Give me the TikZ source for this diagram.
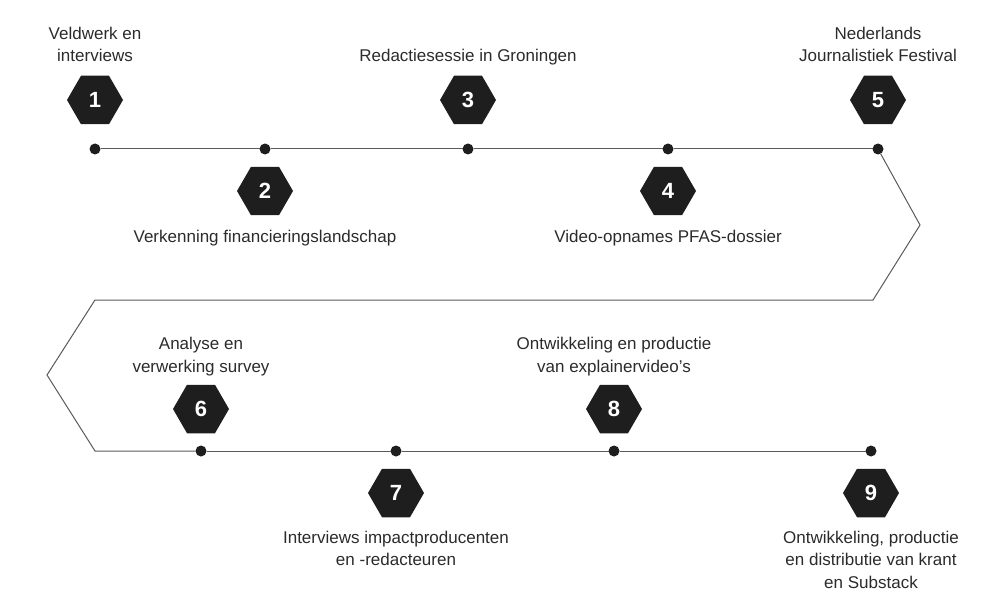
\documentclass[tikz,border=0pt]{standalone}
\usepackage{fontspec}
\setmainfont{Liberation Sans}
\usetikzlibrary{shapes.geometric}
\definecolor{hexfill}{HTML}{1E1E1E}
\definecolor{txt}{HTML}{2B2B2B}
\definecolor{linec}{HTML}{5A5A5A}
\begin{document}
\begin{tikzpicture}[x=1pt,y=-1pt,
  hexnode/.style={regular polygon,regular polygon sides=6,minimum size=56pt,inner sep=0pt,outer sep=0pt,fill=hexfill,text=white,font=\fontsize{22}{24}\bfseries\selectfont},
  dotnode/.style={circle,fill=hexfill,minimum size=11pt,inner sep=0pt,outer sep=0pt},
  lbl/.style={align=center,inner sep=0pt,text=txt,font=\fontsize{17}{22.5}\selectfont,anchor=base},
  tline/.style={draw=linec,line width=1pt}]
\useasboundingbox (0,0) rectangle (992,596);
% dots
\node[dotnode] (d1) at (95,149) {};
\node[dotnode] (d2) at (265,149) {};
\node[dotnode] (d3) at (468,149) {};
\node[dotnode] (d4) at (668,149) {};
\node[dotnode] (d5) at (878,149) {};
\node[dotnode] (d6) at (201,451) {};
\node[dotnode] (d7) at (396,451) {};
\node[dotnode] (d8) at (614,451) {};
\node[dotnode] (d9) at (871,451) {};
\coordinate (c1) at (920,225);
\coordinate (c2) at (873,300);
\coordinate (c3) at (95,300);
\coordinate (c4) at (47,375);
\coordinate (c5) at (95,451);
% timeline
\draw[tline] (d1) -- (d2);
\draw[tline] (d2) -- (d3);
\draw[tline] (d3) -- (d4);
\draw[tline] (d4) -- (d5);
\draw[tline,line join=miter] (d5) -- (c1) -- (c2) -- (c3) -- (c4) -- (c5) -- (d6);
\draw[tline] (d6) -- (d7);
\draw[tline] (d7) -- (d8);
\draw[tline] (d8) -- (d9);
% hexagons
\node[hexnode] (h1) at (95,100) {1};
\node[hexnode] (h2) at (265,191) {2};
\node[hexnode] (h3) at (468,100) {3};
\node[hexnode] (h4) at (668,191) {4};
\node[hexnode] (h5) at (878,100) {5};
\node[hexnode] (h6) at (201,409) {6};
\node[hexnode] (h7) at (396,493) {7};
\node[hexnode] (h8) at (614,409) {8};
\node[hexnode] (h9) at (871,493) {9};
% labels
\node[lbl] (l1) at (95,62) {Veldwerk en\\interviews};
\node[lbl] (l2) at (265,242) {Verkenning financieringslandschap};
\node[lbl] (l3) at (468,62) {Redactiesessie in Groningen};
\node[lbl] (l4) at (668,242) {Video-opnames PFAS-dossier};
\node[lbl] (l5) at (878,62) {Nederlands\\Journalistiek Festival};
\node[lbl] (l6) at (201,372) {Analyse en\\verwerking survey};
\node[lbl] (l7) at (396,565.5) {Interviews impactproducenten\\en -redacteuren};
\node[lbl] (l8) at (614,372) {Ontwikkeling en productie\\van explainervideo's};
\node[lbl] (l9) at (871,588) {Ontwikkeling, productie\\en distributie van krant\\en Substack};
\end{tikzpicture}
\end{document}
